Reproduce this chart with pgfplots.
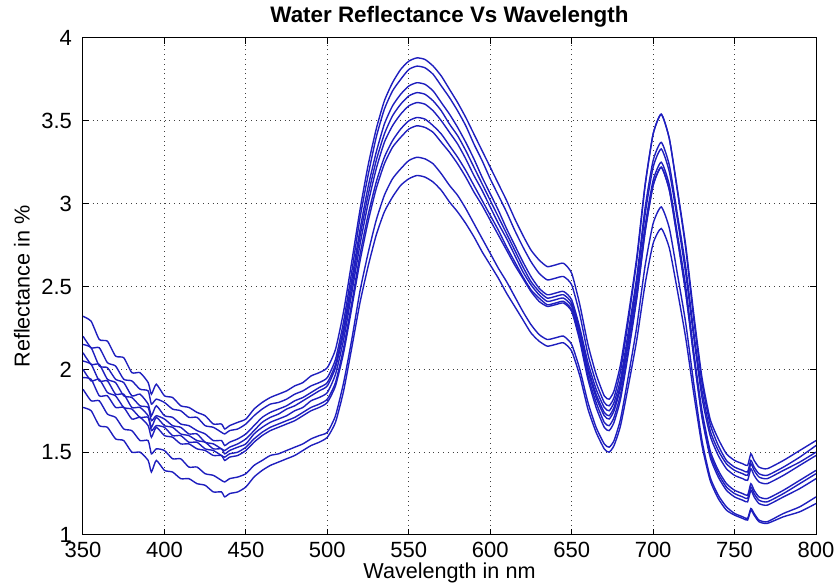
\documentclass[border=0pt]{standalone}
\usepackage{fontspec}
\setmainfont{Liberation Sans}
\usepackage{pgfplots}
\pgfplotsset{compat=1.18}
\usepackage{pgfplotstable}

\definecolor{lineblue}{RGB}{30,30,190}

% reflectance (%) of nine water samples
\pgfplotstableread{
x   c1   c2   c3   c4   c5   c6   c7   c8   c9
350 2.32 2.20 2.15 2.10 2.05 2.00 1.95 1.88 1.77
355 2.29 2.13 2.13 2.03 2.03 1.93 1.94 1.81 1.75
360 2.18 2.13 2.02 2.03 1.93 1.94 1.84 1.81 1.66
365 2.17 2.04 2.01 1.94 1.93 1.86 1.84 1.73 1.65
370 2.08 2.02 1.94 1.92 1.85 1.84 1.77 1.71 1.58
375 2.07 1.94 1.92 1.84 1.85 1.77 1.77 1.64 1.57
380 1.98 1.93 1.84 1.83 1.77 1.76 1.70 1.63 1.50
385 1.98 1.88 1.85 1.78 1.77 1.71 1.71 1.57 1.50
390 1.92 1.87 1.79 1.77 1.72 1.71 1.66 1.57 1.45
392 1.85 1.79 1.72 1.69 1.65 1.63 1.59 1.49 1.38
395 1.91 1.82 1.78 1.72 1.71 1.66 1.65 1.52 1.45
400 1.84 1.80 1.72 1.70 1.66 1.65 1.60 1.51 1.39
405 1.83 1.76 1.71 1.66 1.65 1.60 1.59 1.46 1.38
410 1.78 1.75 1.67 1.65 1.61 1.60 1.55 1.46 1.34
415 1.77 1.71 1.66 1.61 1.60 1.56 1.55 1.41 1.34
420 1.74 1.71 1.63 1.61 1.57 1.56 1.52 1.41 1.31
425 1.72 1.66 1.61 1.56 1.56 1.52 1.51 1.37 1.30
430 1.67 1.65 1.57 1.55 1.52 1.51 1.48 1.36 1.26
435 1.67 1.62 1.57 1.52 1.52 1.48 1.48 1.33 1.26
437 1.64 1.61 1.54 1.51 1.49 1.47 1.45 1.32 1.23
440 1.66 1.63 1.56 1.53 1.51 1.49 1.47 1.34 1.25
445 1.68 1.64 1.58 1.55 1.53 1.50 1.48 1.35 1.26
450 1.70 1.67 1.61 1.58 1.55 1.53 1.51 1.37 1.29
455 1.76 1.72 1.66 1.63 1.61 1.58 1.56 1.42 1.35
460 1.80 1.76 1.71 1.68 1.65 1.62 1.60 1.45 1.39
465 1.83 1.79 1.74 1.71 1.68 1.65 1.63 1.48 1.42
470 1.85 1.80 1.76 1.73 1.70 1.67 1.65 1.49 1.44
475 1.87 1.82 1.78 1.76 1.72 1.69 1.67 1.51 1.46
480 1.90 1.85 1.81 1.78 1.75 1.71 1.69 1.53 1.48
485 1.92 1.87 1.83 1.81 1.77 1.74 1.72 1.55 1.51
490 1.96 1.90 1.86 1.84 1.81 1.77 1.75 1.58 1.54
495 1.98 1.92 1.89 1.87 1.83 1.79 1.77 1.60 1.56
500 2.01 1.95 1.92 1.90 1.86 1.82 1.80 1.62 1.59
505 2.12 2.06 2.03 2.01 1.97 1.92 1.90 1.72 1.68
510 2.35 2.29 2.25 2.22 2.18 2.13 2.10 1.92 1.87
515 2.65 2.59 2.54 2.50 2.46 2.40 2.37 2.18 2.13
520 2.96 2.91 2.84 2.80 2.75 2.69 2.65 2.47 2.40
525 3.23 3.17 3.10 3.05 3.00 2.93 2.89 2.70 2.62
530 3.45 3.40 3.31 3.26 3.21 3.13 3.09 2.90 2.81
535 3.62 3.57 3.48 3.42 3.37 3.28 3.24 3.05 2.95
540 3.73 3.68 3.59 3.53 3.47 3.38 3.34 3.15 3.04
545 3.81 3.75 3.66 3.60 3.54 3.45 3.40 3.21 3.11
550 3.86 3.81 3.71 3.65 3.59 3.50 3.45 3.26 3.15
555 3.88 3.83 3.73 3.67 3.61 3.52 3.47 3.28 3.17
560 3.87 3.82 3.72 3.66 3.60 3.51 3.46 3.27 3.16
565 3.83 3.78 3.68 3.62 3.56 3.47 3.43 3.24 3.13
570 3.77 3.71 3.61 3.56 3.50 3.42 3.37 3.18 3.08
575 3.69 3.64 3.54 3.48 3.43 3.35 3.31 3.11 3.01
580 3.61 3.56 3.46 3.41 3.36 3.28 3.24 3.05 2.95
585 3.52 3.47 3.37 3.32 3.27 3.20 3.16 2.97 2.88
590 3.42 3.36 3.27 3.22 3.17 3.11 3.07 2.88 2.80
595 3.32 3.26 3.16 3.12 3.08 3.02 2.99 2.79 2.71
600 3.22 3.15 3.06 3.02 2.98 2.93 2.90 2.70 2.63
605 3.12 3.05 2.96 2.92 2.88 2.84 2.81 2.61 2.55
610 3.02 2.95 2.85 2.82 2.79 2.74 2.72 2.53 2.46
615 2.91 2.84 2.75 2.72 2.69 2.65 2.63 2.44 2.38
620 2.81 2.74 2.65 2.62 2.59 2.56 2.55 2.35 2.30
625 2.72 2.65 2.56 2.53 2.51 2.48 2.47 2.27 2.22
630 2.66 2.58 2.49 2.47 2.45 2.43 2.41 2.21 2.17
635 2.62 2.54 2.45 2.43 2.41 2.39 2.38 2.18 2.14
640 2.63 2.55 2.46 2.44 2.42 2.40 2.39 2.19 2.15
645 2.64 2.56 2.47 2.45 2.43 2.41 2.40 2.20 2.16
650 2.58 2.51 2.42 2.40 2.38 2.36 2.35 2.15 2.11
655 2.39 2.33 2.25 2.23 2.21 2.19 2.17 2.00 1.96
660 2.15 2.09 2.04 2.01 1.99 1.96 1.94 1.80 1.76
665 1.97 1.92 1.88 1.85 1.83 1.80 1.77 1.65 1.62
670 1.84 1.80 1.77 1.74 1.72 1.68 1.65 1.55 1.52
673 1.82 1.78 1.75 1.72 1.70 1.66 1.63 1.53 1.50
676 1.87 1.83 1.80 1.77 1.75 1.71 1.68 1.57 1.54
680 2.03 1.99 1.94 1.91 1.89 1.85 1.82 1.70 1.66
685 2.34 2.31 2.24 2.20 2.17 2.13 2.11 1.97 1.91
690 2.68 2.66 2.56 2.53 2.48 2.44 2.43 2.26 2.18
695 3.11 3.10 2.97 2.93 2.86 2.83 2.82 2.62 2.51
700 3.42 3.42 3.26 3.22 3.14 3.11 3.11 2.88 2.76
705 3.54 3.54 3.37 3.33 3.25 3.22 3.22 2.98 2.85
710 3.39 3.39 3.23 3.19 3.11 3.08 3.08 2.85 2.73
715 3.08 3.07 2.93 2.90 2.81 2.79 2.78 2.57 2.47
720 2.75 2.73 2.62 2.58 2.50 2.47 2.46 2.28 2.19
725 2.33 2.30 2.22 2.19 2.10 2.08 2.07 1.91 1.85
730 1.95 1.92 1.87 1.83 1.75 1.72 1.71 1.57 1.54
735 1.70 1.67 1.63 1.60 1.51 1.49 1.47 1.35 1.33
740 1.58 1.54 1.51 1.48 1.39 1.37 1.35 1.24 1.22
745 1.49 1.45 1.43 1.40 1.31 1.29 1.27 1.17 1.15
750 1.45 1.41 1.39 1.36 1.27 1.25 1.23 1.13 1.12
755 1.43 1.39 1.37 1.34 1.25 1.23 1.21 1.11 1.10
758 1.42 1.38 1.36 1.33 1.24 1.22 1.20 1.10 1.09
760 1.49 1.45 1.43 1.40 1.31 1.29 1.27 1.16 1.15
762 1.45 1.41 1.39 1.36 1.27 1.25 1.23 1.13 1.12
765 1.41 1.37 1.35 1.32 1.23 1.21 1.19 1.09 1.08
770 1.40 1.36 1.34 1.31 1.22 1.20 1.18 1.08 1.07
780 1.45 1.41 1.39 1.36 1.27 1.25 1.23 1.13 1.11
790 1.51 1.47 1.44 1.42 1.33 1.31 1.28 1.17 1.14
800 1.57 1.54 1.50 1.48 1.39 1.37 1.34 1.23 1.19
}\refl

\begin{document}
\begin{tikzpicture}
\begin{axis}[
  scale only axis,
  width=366.5pt, height=248.5pt,
  xmin=350, xmax=800, ymin=1, ymax=4,
  xtick={350,400,...,800},
  ytick={1,1.5,2,2.5,3,3.5,4},
  /pgf/number format/assume math mode=true,
  tick label style={font=\fontsize{11}{13}\selectfont},
  yticklabel style={xshift=-2pt},
  label style={font=\fontsize{10.8}{13}\selectfont},
  grid=major,
  grid style={black!75, dotted, line width=0.5pt},
  axis line style={black, line width=0.5pt},
  tick align=inside,
  major tick length=3pt,
  tick style={black, line width=0.5pt},
  xlabel={Wavelength in nm},
  ylabel={Reflectance in \%},
  xlabel style={at={(axis description cs:0.5,-0.0765)}, anchor=center},
  ylabel style={at={(axis description cs:-0.0832,0.5)}, anchor=center},
  title={\bfseries Water Reflectance Vs Wavelength},
  every axis title shift=0pt,
  title style={at={(axis description cs:0.5,1)}, anchor=center, yshift=10.5pt,
    font=\fontsize{11.2}{13}\selectfont},
]
\addplot[lineblue, line width=0.7pt, smooth, tension=0.35] table[x=x, y=c1] {\refl};
\addplot[lineblue, line width=0.7pt, smooth, tension=0.35] table[x=x, y=c2] {\refl};
\addplot[lineblue, line width=0.7pt, smooth, tension=0.35] table[x=x, y=c3] {\refl};
\addplot[lineblue, line width=0.7pt, smooth, tension=0.35] table[x=x, y=c4] {\refl};
\addplot[lineblue, line width=0.7pt, smooth, tension=0.35] table[x=x, y=c5] {\refl};
\addplot[lineblue, line width=0.7pt, smooth, tension=0.35] table[x=x, y=c6] {\refl};
\addplot[lineblue, line width=0.7pt, smooth, tension=0.35] table[x=x, y=c7] {\refl};
\addplot[lineblue, line width=0.7pt, smooth, tension=0.35] table[x=x, y=c8] {\refl};
\addplot[lineblue, line width=0.7pt, smooth, tension=0.35] table[x=x, y=c9] {\refl};
\end{axis}
\pgfresetboundingbox
\path ([xshift=-41.5pt,yshift=-25pt]current axis.south west)
  rectangle ([xshift=10.5pt,yshift=19pt]current axis.north east);
\end{tikzpicture}
\end{document}
